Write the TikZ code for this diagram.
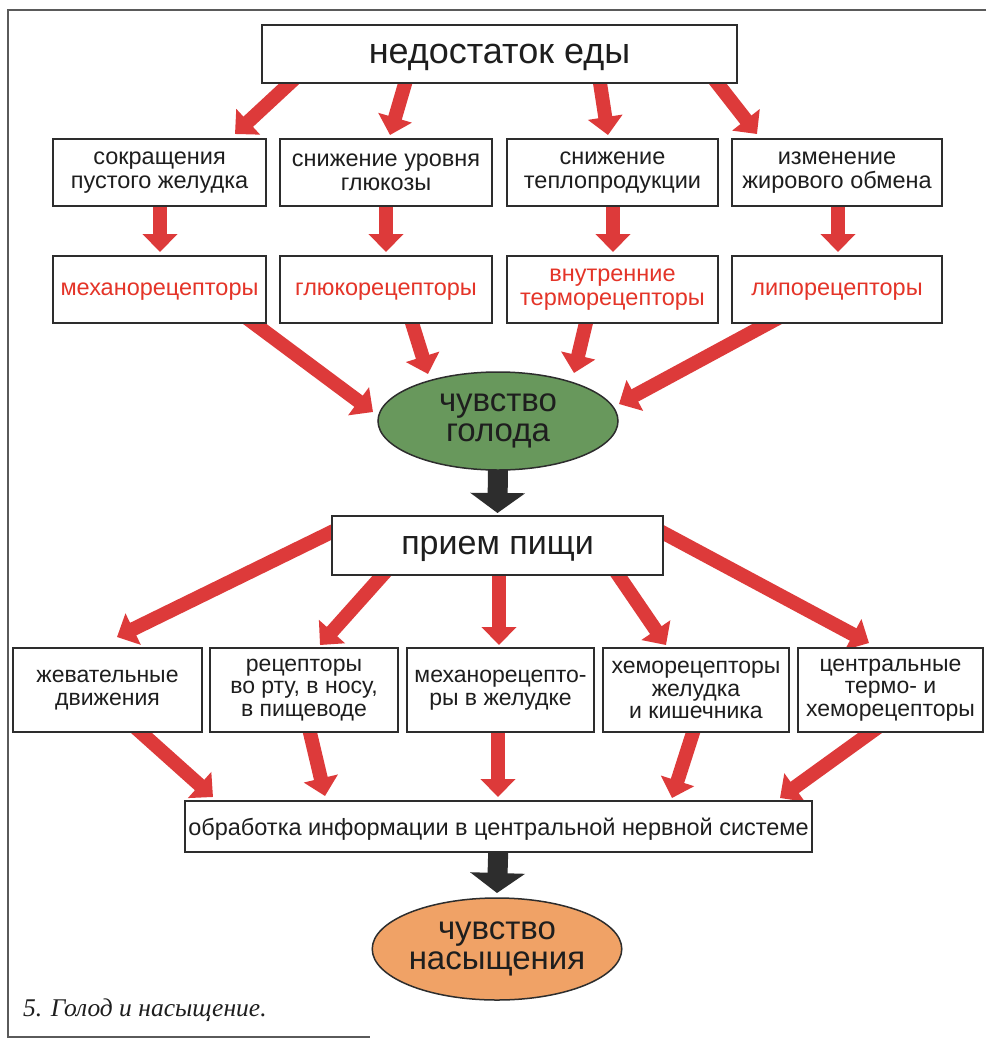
\documentclass[tikz,border=0pt]{standalone}
\usepackage{fontspec}
\setmainfont{Liberation Sans}
\newfontfamily\capfont{Liberation Serif}
\usetikzlibrary{arrows.meta,calc,shapes.geometric}
\definecolor{arrowred}{RGB}{221,58,58}
\definecolor{redtext}{RGB}{228,52,40}
\definecolor{hungergreen}{RGB}{104,152,92}
\definecolor{satorange}{RGB}{240,162,102}
\definecolor{boxline}{RGB}{45,45,45}
\definecolor{txt}{RGB}{30,30,30}
\definecolor{arrowblack}{RGB}{45,45,45}
\definecolor{framegray}{RGB}{90,90,90}
\pgfdeclarelayer{paper}
\pgfdeclarelayer{bg}
\pgfsetlayers{paper,bg,main}
\newcommand\bxfont{\fontsize{23.5}{24}\selectfont}
\newcommand\rowfourfont{\fontsize{23}{22.5}\selectfont}
\newcommand\bigfont{\fontsize{33}{30}\selectfont}
\tikzset{
  box/.style={draw=boxline, line width=1.8pt, fill=white, inner sep=0pt, align=center, text=txt, font=\bxfont},
  rowa/.style={box, minimum height=67pt},
  rowb/.style={box, minimum height=84pt, font=\rowfourfont},
  oneline/.style={text depth=0pt},
  feel/.style={ellipse, draw=boxline, line width=1.5pt, inner sep=0pt, align=center, text=txt, font=\bigfont},
  redarrow/.style={draw=arrowred, line width=14pt, -{Triangle[width=34pt,length=18pt]}},
  blackarrow/.style={draw=arrowblack, line width=20pt, -{Triangle[width=54pt,length=20pt]}},
}
\begin{document}
\begin{tikzpicture}[x=1pt,y=-1pt]
\useasboundingbox (0,0) rectangle (986,1039);
\begin{pgfonlayer}{paper}
\fill[white] (0,0) rectangle (986,1039);
\end{pgfonlayer}
\draw[framegray, line width=1.6pt] (986,10) -- (8,10) -- (8,1037) -- (370,1037);

% nodes
\node[box, oneline, minimum width=475pt, minimum height=58pt, font=\fontsize{36}{40}\selectfont] (T) at (499.5,54) {недостаток еды};

\node[rowa, minimum width=213pt] (b11) at (159.5,172.5) {сокращения\\пустого желудка};
\node[rowa, minimum width=212pt] (b12) at (386,172.5) {снижение уровня\\глюкозы};
\node[rowa, minimum width=211pt] (b13) at (612.5,172.5) {снижение\\теплопродукции};
\node[rowa, minimum width=210pt] (b14) at (837,172.5) {изменение\\жирового обмена};

\node[rowa, oneline, minimum width=213pt, text=redtext] (b21) at (159.5,289.5) {механорецепторы};
\node[rowa, oneline, minimum width=212pt, text=redtext] (b22) at (386,289.5) {глюкорецепторы};
\node[rowa, minimum width=211pt, text=redtext] (b23) at (612.5,289.5) {внутренние\\терморецепторы};
\node[rowa, oneline, minimum width=210pt, text=redtext] (b24) at (837,289.5) {липорецепторы};

\node[feel, fill=hungergreen, minimum width=240pt, minimum height=98pt] (H) at (498,421) {чувство\\голода};

\node[box, oneline, minimum width=331pt, minimum height=59pt, font=\fontsize{34}{36}\selectfont] (P) at (497.5,545.5) {прием пищи};

\node[rowb, minimum width=189pt] (b41) at (107.5,690) {жевательные\\движения};
\node[rowb, minimum width=188pt] (b42) at (304,690) {рецепторы\\во рту, в носу,\\в пищеводе};
\node[rowb, minimum width=187pt] (b43) at (500.5,690) {механорецепто-\\ры в желудке};
\node[rowb, minimum width=186pt] (b44) at (696,690) {хеморецепторы\\желудка\\и кишечника};
\node[rowb, minimum width=185pt] (b45) at (890.5,690) {центральные\\термо- и\\хеморецепторы};

\node[box, oneline, minimum width=627pt, minimum height=51pt] (O) at (498.5,826.5) {обработка информации в центральной нервной системе};

\node[feel, fill=satorange, minimum width=240pt, minimum height=102pt] (S) at (497,949) {чувство\\насыщения};

\node[anchor=base west, inner sep=0pt, text=txt, font=\capfont\itshape\fontsize{25.5}{26}\selectfont] (cap) at (23,1016) {5. Голод и насыщение.};

% connectors
\begin{pgfonlayer}{bg}
\draw[redarrow] ($(T.center)+(-195.5,16)$) -- ($(b11.center)+(75.5,-38.5)$);
\draw[redarrow] ($(T.center)+(-90.5,16)$) -- ($(b12.center)+(4,-37.5)$);
\draw[redarrow] ($(T.center)+(98.5,16)$) -- ($(b13.center)+(-4.5,-37.5)$);
\draw[redarrow] ($(T.center)+(207.5,16)$) -- ($(b14.center)+(-80,-38.5)$);

\draw[redarrow] ($(b11.center)+(0.5,20)$) -- ($(b21.center)+(0.5,-37.5)$);
\draw[redarrow] ($(b12.center)+(0,20)$) -- ($(b22.center)+(0,-37.5)$);
\draw[redarrow] ($(b13.center)+(0.5,20)$) -- ($(b23.center)+(0.5,-37.5)$);
\draw[redarrow] ($(b14.center)+(1,20)$) -- ($(b24.center)+(1,-37.5)$);

\draw[redarrow] ($(b21.center)+(76.5,20.5)$) -- ($(H.center)+(-125,-9)$);
\draw[redarrow] ($(b22.center)+(22,20.5)$) -- ($(H.center)+(-70,-47)$);
\draw[redarrow] ($(b23.center)+(-23.5,20.5)$) -- ($(H.center)+(76,-48)$);
\draw[redarrow] ($(b24.center)+(-44,20.5)$) -- ($(H.center)+(121,-17)$);

\draw[blackarrow] ($(H.center)+(0,40)$) -- ($(P.center)+(0,-32.5)$);

\draw[redarrow] ($(P.center)+(-147.5,-22.5)$) -- ($(b41.center)+(9.5,-53)$);
\draw[redarrow] ($(P.center)+(-101.5,14.5)$) -- ($(b42.center)+(16,-45)$);
\draw[redarrow] ($(P.center)+(1.5,14.5)$) -- ($(b43.center)+(-1.5,-45)$);
\draw[redarrow] ($(P.center)+(110.5,14.5)$) -- ($(b44.center)+(-30,-45)$);
\draw[redarrow] ($(P.center)+(147.5,-22.5)$) -- ($(b45.center)+(-21.5,-47)$);

\draw[redarrow] ($(b41.center)+(19.5,30)$) -- ($(O.center)+(-285.5,-29.5)$);
\draw[redarrow] ($(b42.center)+(3,30)$) -- ($(O.center)+(-173.5,-30.5)$);
\draw[redarrow] ($(b43.center)+(-2.5,30)$) -- ($(O.center)+(-0.5,-29.5)$);
\draw[redarrow] ($(b44.center)+(1,30)$) -- ($(O.center)+(173.5,-28.5)$);
\draw[redarrow] ($(b45.center)+(-2.5,30)$) -- ($(O.center)+(281.5,-28.5)$);

\draw[blackarrow] ($(O.center)+(0,15)$) -- ($(S.center)+(0,-56)$);
\end{pgfonlayer}
\end{tikzpicture}
\end{document}
